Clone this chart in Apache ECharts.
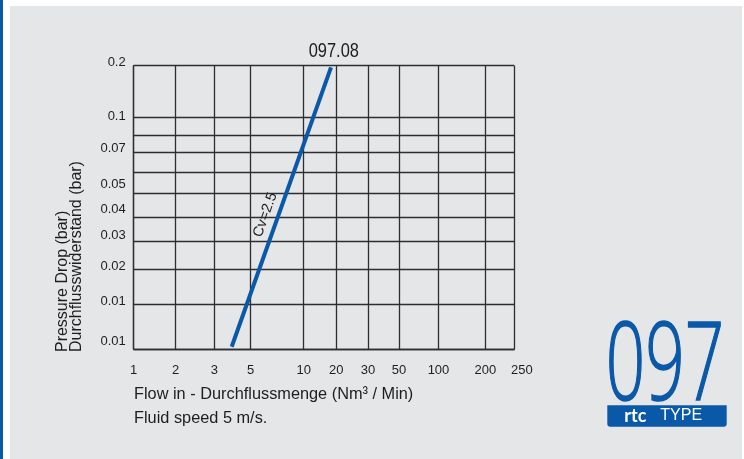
<!DOCTYPE html>
<html><head><meta charset="utf-8">
<script src="https://cdn.jsdelivr.net/npm/echarts@6/dist/echarts.min.js"></script>
<style>
html,body{margin:0;padding:0;background:#fff;width:744px;height:459px;overflow:hidden;}
#stripe{position:absolute;left:0;top:0;width:2.5px;height:459px;background:#0a58a8;}
#panel{position:absolute;left:10px;top:6px;width:732px;height:453px;background:#e5e6e8;}
#chart{position:absolute;left:0;top:0;width:744px;height:459px;}
</style></head><body>
<div id="stripe"></div><div id="panel"></div><div id="chart"></div>
<script>
// Axis definitions (chart graph units 0..100 along each axis)
const xTickLabels = ['1', '2', '3', '5', '10', '20', '30', '50', '100', '200', '250'];
const xGridAt = [0, 11.04, 21.18, 30.69, 44.67, 53.23, 61.56, 69.71, 80.08, 92.38, 100];

const yTickLabels = ['0.01', '0.01', '0.02', '0.03', '0.04', '0.05', '0.07', '0.1', '0.2'];
const yLabelAt = [2.58, 16.94, 29.05, 39.99, 49.42, 58.24, 70.7, 82.0, 100];
const yGridAt = [0, 15.88, 28.06, 37.88, 46.35, 54.96, 62.23, 69.43, 75.54, 81.64, 100];

// Characteristic curve 097.08 (Cv = 2.5), read in graph units
const curveName = 'Cv=2.5';
const flowCurve = [[25.75, 0.81], [51.84, 99.4]];

const FONT = "'Liberation Sans', Arial, sans-serif";
const BLUE = '#0a58a8';
const INK = '#1e1e1e';
const GRID = '#2e2e2e';

function nearestIndex(arr, v) {
  let best = 0, d = Infinity;
  arr.forEach((a, i) => { const dd = Math.abs(a - v); if (dd < d) { d = dd; best = i; } });
  return best;
}

// label anchor segment along the curve (label sits a little below the curve's middle)
const lblFrac = 0.914;
const lblEnd = [flowCurve[0][0] + lblFrac * (flowCurve[1][0] - flowCurve[0][0]),
                flowCurve[0][1] + lblFrac * (flowCurve[1][1] - flowCurve[0][1])];

function narrowText(text, x, y, size, sx, extra) {
  return Object.assign({type: 'text', x: x, y: y, scaleX: sx,
    style: {text: text, fontFamily: FONT, fontSize: size, fill: INK, align: 'left', verticalAlign: 'middle'}}, extra || {});
}

const chart = echarts.init(document.getElementById('chart'), null, {renderer: 'canvas'});
chart.setOption({
  backgroundColor: 'transparent',
  animation: false,
  grid: {left: 133.7, right: 229.7, top: 65.7, bottom: 110, outerBoundsMode: 'none', containLabel: false},
  xAxis: {
    type: 'value', min: 0, max: 100,
    axisLine: {show: true, lineStyle: {color: GRID, width: 1.3}},
    axisTick: {show: false, customValues: xGridAt},
    splitLine: {show: true, lineStyle: {color: GRID, width: 1.3}},
    axisLabel: {
      customValues: xGridAt, margin: 14.5,
      fontFamily: FONT, fontSize: 13, color: INK,
      formatter: v => {
        const i = nearestIndex(xGridAt, v);
        return i === xTickLabels.length - 1 ? '{r|' + xTickLabels[i] + '}' : xTickLabels[i];
      },
      rich: {r: {fontFamily: FONT, fontSize: 13, color: INK, padding: [0, 0, 0, 15]}}
    }
  },
  yAxis: {
    type: 'value', min: 0, max: 100,
    axisLine: {show: true, lineStyle: {color: GRID, width: 1.3}},
    axisTick: {show: false, customValues: yGridAt},
    splitLine: {show: true, lineStyle: {color: GRID, width: 1.3}},
    axisLabel: {
      customValues: yLabelAt, margin: 8,
      fontFamily: FONT, fontSize: 13, color: INK,
      formatter: v => {
        const i = nearestIndex(yLabelAt, v);
        return i === yTickLabels.length - 1 ? '{t|' + yTickLabels[i] + '}' : yTickLabels[i];
      },
      rich: {t: {fontFamily: FONT, fontSize: 13, color: INK, padding: [0, 0, 7, 0]}}
    }
  },
  series: [{
    type: 'line', name: curveName, data: flowCurve,
    symbol: 'none', z: 5,
    lineStyle: {color: BLUE, width: 4, cap: 'butt'},
    markLine: {
      silent: true, symbol: ['none', 'none'],
      lineStyle: {color: 'rgba(0,0,0,0)', width: 0, type: 'solid'},
      label: {
        show: true, position: 'insideMiddleTop', distance: 5,
        formatter: curveName, fontFamily: FONT, fontSize: 14.5, color: INK
      },
      data: [[{coord: flowCurve[0]}, {coord: lblEnd}]]
    }
  }],
  graphic: [
    narrowText('097.08', 333.8, 51.2, 20, 0.82, {style: {text: '097.08', fontFamily: FONT, fontSize: 20, fill: INK, align: 'center', verticalAlign: 'middle'}}),
    narrowText('Pressure Drop (bar)', 62.2, 352, 17, 0.94, {rotation: Math.PI / 2}),
    narrowText('Durchflusswiderstand (bar)', 76.4, 352, 17, 0.94, {rotation: Math.PI / 2}),
    narrowText('Flow in - Durchflussmenge (Nm³ / Min)', 134, 394.5, 17, 0.96),
    narrowText('Fluid speed 5 m/s.', 134, 418.3, 17, 0.96),
    {type: 'text', x: 665, y: 369, scaleX: 0.64,
     style: {text: '097', fontFamily: "'Open Sans', sans-serif", fontWeight: 300, fontSize: 108, fill: BLUE,
       stroke: BLUE, lineWidth: 1.6, align: 'center', verticalAlign: 'middle'}},
    {type: 'rect', shape: {x: 607.3, y: 405.3, width: 119.4, height: 21.4, r: [0, 0, 3, 3]},
     style: {fill: BLUE}},
    {type: 'text', x: 624.3, y: 416,
     style: {text: '{a|rtc}{b|TYPE}', align: 'left', verticalAlign: 'middle', fill: '#fff',
       rich: {
         a: {fontFamily: 'Lato, sans-serif', fontWeight: 'bold', fontSize: 18, fill: '#fff'},
         b: {fontFamily: FONT, fontSize: 16, fill: '#fff', padding: [0, 0, 0, 14]}
       }}}
  ]
});
</script></body></html>
